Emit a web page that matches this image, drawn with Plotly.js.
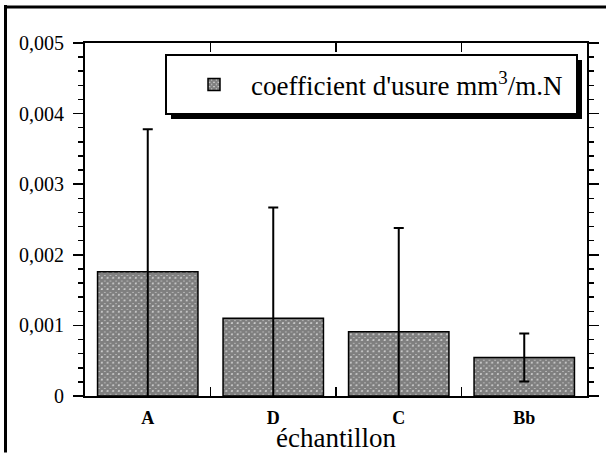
<!DOCTYPE html>
<html>
<head>
<meta charset="utf-8">
<script src="https://cdn.plot.ly/plotly-3.0.1.min.js"></script>
<style>html,body{margin:0;padding:0;background:#fff;}#chart{width:606px;height:453px;}</style>
</head>
<body>
<div id="chart"></div>
<script>
var categories = ['A', 'D', 'C', 'Bb'];
var wearCoefficient = [0.00176, 0.00110, 0.00091, 0.000545];
var wearError = [0.00202, 0.00157, 0.00147, 0.00034];
var seriesName = "coefficient d'usure mm<sup>3</sup>/m.N";
var xTitle = 'échantillon';

var L = 85, R = 587, T = 43, B = 396.5, W = 606, H = 453;
function px(x) { return (x - L) / (R - L); }
function py(y) { return (B - y) / (B - T); }

var serif = '"Liberation Serif", "Times New Roman", "DejaVu Serif", serif';

var trace = {
  type: 'bar',
  x: categories,
  y: wearCoefficient,
  name: seriesName,
  width: 0.8,
  marker: {
    color: '#ffffff',
    line: {color: '#000000', width: 1.5},
    pattern: {shape: 'x', size: 4, solidity: 0.9, fgcolor: '#000000', bgcolor: '#ffffff', fillmode: 'overlay'}
  },
  error_y: {type: 'data', array: wearError, symmetric: true, color: '#000000', thickness: 2, width: 5},
  showlegend: true
};

var layout = {
  width: W, height: H,
  margin: {l: L, r: W - R, t: T, b: H - B, pad: 0},
  paper_bgcolor: '#ffffff',
  plot_bgcolor: '#ffffff',
  separators: ', ',
  showlegend: true,
  bargap: 0.2,
  font: {family: serif, color: '#000000'},
  xaxis: {
    type: 'category',
    range: [-0.5, 3.5],
    showline: true, linecolor: '#000000', linewidth: 2,
    mirror: 'ticks',
    ticks: 'inside', tickson: 'boundaries', ticklen: 9, tickwidth: 1.5, tickcolor: '#000000',
    showgrid: false, zeroline: false,
    ticklabelstandoff: 4,
    tickfont: {family: serif, size: 18, color: '#000000', weight: 'bold'},
    title: {text: xTitle, font: {family: serif, size: 27, color: '#000000'}, standoff: 7}
  },
  yaxis: {
    range: [0, 0.005],
    tickmode: 'linear', tick0: 0, dtick: 0.001,
    tickformat: '.3~f',
    showline: true, linecolor: '#000000', linewidth: 2,
    mirror: 'ticks',
    ticks: 'outside', ticklen: 10, tickwidth: 1.5, tickcolor: '#000000',
    minor: {dtick: 0.0002, ticks: 'outside', ticklen: 5, tickwidth: 1.5, tickcolor: '#000000'},
    showgrid: false, zeroline: false,
    ticklabelstandoff: 5,
    tickfont: {family: serif, size: 20, color: '#000000'}
  },
  legend: {
    x: px(177), xanchor: 'left',
    y: py(85), yanchor: 'middle',
    itemwidth: 64,
    bgcolor: 'rgba(0,0,0,0)', borderwidth: 0,
    font: {family: serif, size: 27, color: '#000000'}
  },
  shapes: [
    {type: 'line', xref: 'paper', yref: 'paper', x0: px(5.5), x1: px(5.5), y0: py(453), y1: py(5), line: {color: '#000', width: 3}},
    {type: 'line', xref: 'paper', yref: 'paper', x0: px(4), x1: px(606), y0: py(7), y1: py(7), line: {color: '#000', width: 3}},
    {type: 'rect', xref: 'paper', yref: 'paper', x0: px(171), x1: px(582), y0: py(119), y1: py(60), fillcolor: '#000', line: {width: 0}, layer: 'above'},
    {type: 'rect', xref: 'paper', yref: 'paper', x0: px(166), x1: px(577), y0: py(114), y1: py(55), fillcolor: '#fff', line: {color: '#000', width: 2}, layer: 'above'}
  ]
};

Plotly.newPlot('chart', [trace], layout, {staticPlot: true, displayModeBar: false});
</script>
</body>
</html>
